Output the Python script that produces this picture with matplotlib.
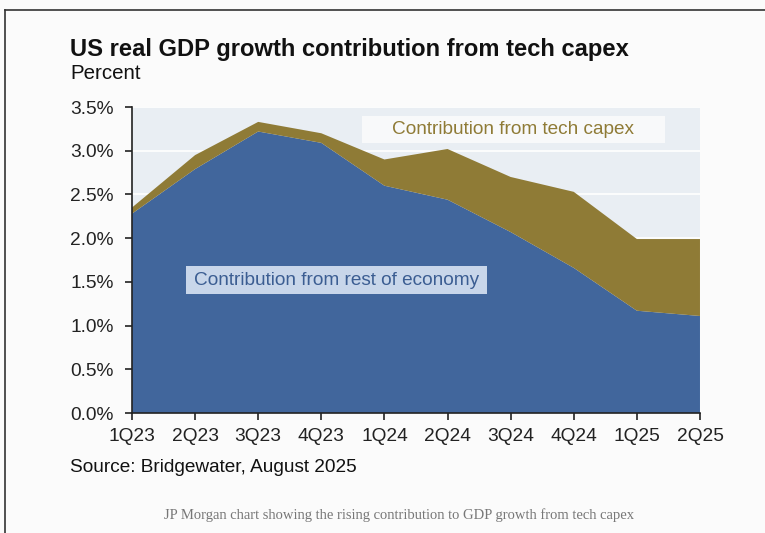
import matplotlib
matplotlib.use('Agg')
import matplotlib.pyplot as plt
from matplotlib.lines import Line2D
from matplotlib.patches import Rectangle
from matplotlib.ticker import FuncFormatter

# data (percent)
quarters = ['1Q23', '2Q23', '3Q23', '4Q23', '1Q24', '2Q24', '3Q24', '4Q24', '1Q25', '2Q25']
rest_of_economy = [2.28, 2.79, 3.22, 3.09, 2.60, 2.44, 2.07, 1.66, 1.17, 1.11]
total_growth = [2.35, 2.95, 3.33, 3.20, 2.90, 3.02, 2.70, 2.53, 1.99, 1.99]
tech_capex = [t - r for t, r in zip(total_growth, rest_of_economy)]

blue = '#41669c'
olive = '#8f7b36'

plt.rcParams['font.family'] = ['Liberation Sans', 'DejaVu Sans']

fig = plt.figure(figsize=(7.65, 5.33), dpi=100, facecolor='#fbfbfb')
ax = fig.add_axes([0.1725, 0.2251, 0.7425, 0.5741])
ax.set_facecolor('#e9eef3')

x = list(range(len(quarters)))
ax.stackplot(x, rest_of_economy, tech_capex, colors=[blue, olive], linewidth=0, zorder=2)

ax.set_xlim(0, len(quarters) - 1)
ax.set_ylim(0, 3.5)
ax.set_yticks([i * 0.5 for i in range(8)])
ax.yaxis.set_major_formatter(FuncFormatter(lambda v, p: '{:.1f}%'.format(v)))
ax.set_xticks(x)
ax.set_xticklabels(quarters)
ax.grid(axis='y', color='white', linewidth=1.2, zorder=1)
ax.set_axisbelow(True)

for s in ['top', 'right']:
    ax.spines[s].set_visible(False)
for s in ['left', 'bottom']:
    ax.spines[s].set_color('#222222')
    ax.spines[s].set_linewidth(1.2)
    ax.spines[s].set_zorder(3)
ax.tick_params(axis='both', labelsize=13.8, colors='#222222', length=5, width=1.2)
ax.tick_params(axis='y', pad=8)
ax.tick_params(axis='x', pad=6)

# label boxes
ax.add_patch(Rectangle((0.405, 0.882), 0.533, 0.089, transform=ax.transAxes,
                       fc='#f8f9fa', ec='none', zorder=4))
ax.text(0.671, 0.926, 'Contribution from tech capex', color=olive, fontsize=13.7,
        ha='center', va='center', transform=ax.transAxes, zorder=5)
ax.add_patch(Rectangle((0.095, 0.389), 0.530, 0.091, transform=ax.transAxes,
                       fc='#c8d6ea', ec='none', zorder=4))
ax.text(0.361, 0.434, 'Contribution from rest of economy', color='#3b5d92', fontsize=13.7,
        ha='center', va='center', transform=ax.transAxes, zorder=5)

fig.text(0.0915, 0.908, 'US real GDP growth contribution from tech capex',
         fontsize=17.1, fontweight='bold', color='#111111', ha='left', va='center')
fig.text(0.0915, 0.862, 'Percent', fontsize=14.8, color='#111111', ha='left', va='center')
fig.text(0.0915, 0.122, 'Source: Bridgewater, August 2025', fontsize=13.7,
         color='#111111', ha='left', va='center')
fig.text(0.521, 0.034, 'JP Morgan chart showing the rising contribution to GDP growth from tech capex',
         fontsize=10.5, color='#777777', ha='center', va='center',
         family=['Liberation Serif', 'DejaVu Serif'])

# screenshot frame
fig.add_artist(Line2D([0.007, 0.007], [0.0, 0.981], transform=fig.transFigure, color='#333333', lw=1.2))
fig.add_artist(Line2D([0.007, 1.0], [0.981, 0.981], transform=fig.transFigure, color='#333333', lw=1.2))

fig.savefig('out.png', dpi=100, facecolor=fig.get_facecolor())
